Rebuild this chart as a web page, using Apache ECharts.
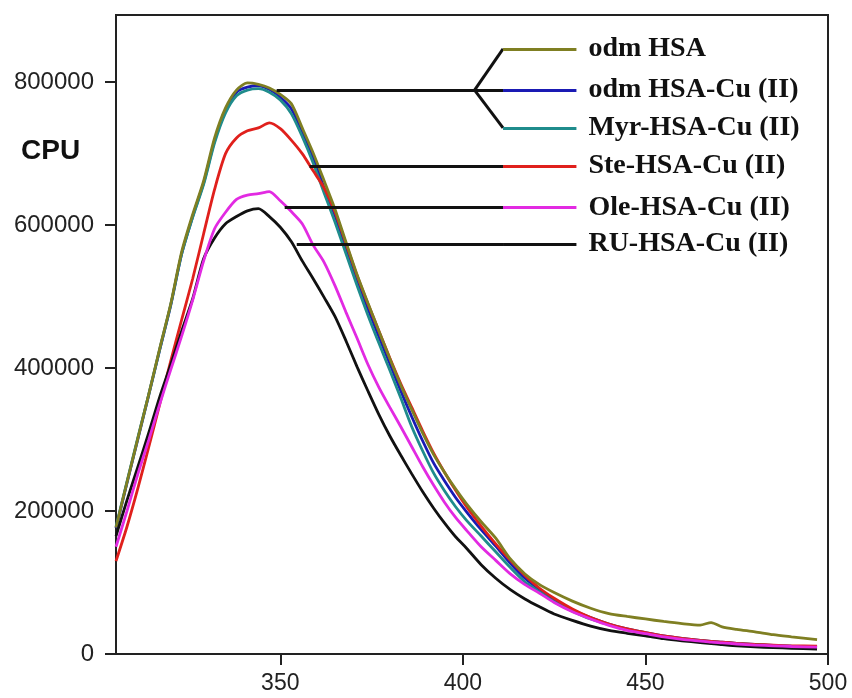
<!DOCTYPE html>
<html>
<head>
<meta charset="utf-8">
<script src="https://cdn.jsdelivr.net/npm/echarts@6/dist/echarts.min.js"></script>
<style>
  html, body { margin: 0; padding: 0; background: #fff; }
  #chart { width: 852px; height: 698px; }
</style>
</head>
<body>
<div id="chart"></div>
<script>
// emission wavelength (nm)
const wavelength = [305, 308, 311, 314, 317, 320, 323, 326, 329, 332, 335, 338, 341, 344, 347, 350, 353, 356, 359, 362,
  365, 368, 371, 374, 377, 380, 383, 386, 389, 392, 395, 398, 401, 405, 409, 413, 417, 421, 425, 430,
  435, 440, 445, 450, 455, 460, 465, 468, 471, 475, 480, 485, 490, 497]

const odmHSA = [177000, 240000, 302000, 364000, 428000, 490000, 563000, 615000, 662000, 722000,
  764000, 789000, 799000, 797000, 792000, 783000, 770000, 736000, 701000, 662000,
  622000, 576000, 531000, 491000, 452000, 413000, 376000, 342000, 309000, 279000,
  254000, 231000, 210000, 185000, 162000, 133000, 112000, 97000, 86000, 74000,
  64000, 56500, 52500, 49000, 45500, 42500, 40500, 44000, 38000, 34500,
  31000, 27000, 24000, 20000]
const odmHSACu = [176000, 239000, 301000, 363000, 426000, 488000, 560000, 612000, 659000, 718000,
  760000, 786000, 793000, 795000, 790000, 779000, 763000, 731000, 695000, 652000,
  613000, 568000, 524000, 483000, 444000, 406000, 368000, 332000, 298000, 267000,
  242000, 219000, 199000, 174000, 151000, 127000, 106000, 90000, 76000, 62000,
  51000, 42000, 35000, 30000, 25500, 22000, 19000, 17500, 16500, 15000,
  13500, 12000, 11000, 10000]
const myrHSACu = [178000, 241000, 303000, 364000, 427000, 489000, 560000, 611000, 657000, 715000,
  757000, 781000, 789000, 791000, 786000, 775000, 756000, 724000, 687000, 645000,
  604000, 560000, 516000, 474000, 435000, 397000, 358000, 318000, 284000, 253000,
  228000, 206000, 187000, 165000, 143000, 121000, 101000, 87000, 73000, 60000,
  49000, 41000, 34000, 29000, 24500, 21000, 18500, 17000, 16000, 14500,
  13000, 11500, 10500, 9500]
const steHSACu = [130000, 178000, 232000, 290000, 350000, 410000, 468000, 525000, 588000, 650000,
  700000, 722000, 732000, 736000, 743000, 735000, 719000, 700000, 676000, 652000,
  618000, 574000, 530000, 490000, 452000, 414000, 378000, 345000, 312000, 281000,
  254000, 229000, 206000, 179000, 154000, 131000, 110000, 92000, 78000, 63000,
  51000, 42000, 35000, 30000, 25500, 22000, 19000, 17500, 16500, 15000,
  13500, 12500, 11500, 11000]
const oleHSACu = [150000, 200000, 252000, 300000, 350000, 398000, 445000, 495000, 550000, 595000,
  618000, 636000, 642000, 644000, 647000, 634000, 619000, 602000, 572000, 548000,
  515000, 478000, 442000, 405000, 373000, 345000, 318000, 290000, 262000, 236000,
  212000, 191000, 173000, 150000, 131000, 112000, 97000, 85000, 72000, 59000,
  49000, 40000, 33000, 28500, 24000, 20500, 18000, 16500, 15500, 14000,
  12500, 11500, 10500, 9500]
const ruHSACu = [165000, 215000, 262000, 310000, 360000, 405000, 452000, 497000, 553000, 582000,
  602000, 612000, 620000, 623000, 612000, 597000, 577000, 550000, 525000, 499000,
  472000, 438000, 402000, 368000, 335000, 305000, 278000, 252000, 227000, 204000,
  183000, 164000, 148000, 125000, 106000, 90000, 77000, 66000, 56000, 47000,
  39000, 33000, 29000, 25500, 21500, 18500, 16000, 14500, 13000, 11500,
  10000, 9000, 8000, 7000]

const seriesNames = ['odm HSA', 'odm HSA-Cu (II)', 'Myr-HSA-Cu (II)', 'Ste-HSA-Cu (II)', 'Ole-HSA-Cu (II)', 'RU-HSA-Cu (II)']
const seriesColors = ['#7f7f22', '#1a1ab4', '#1f8c8c', '#e0201c', '#e22ae2', '#111111']
const xTicks = [350, 400, 450, 500]
const yTicks = [0, 200000, 400000, 600000, 800000]

// key rows drawn inside the plot (value units)
const keyY = [846600, 789000, 736100, 683000, 624600, 573800]
const keyX = [411.0, 431.1]
const forkX = 403.2
const leaderFrom = [null, 349.0, null, 358.0, 351.2, 354.5]

const values = [odmHSA, odmHSACu, myrHSACu, steHSACu, oleHSACu, ruHSACu]
const drawOrder = [1, 2, 3, 0, 5, 4]

const black = '#111'
const seriesList = drawOrder.map(i => {
  const lines = [[
    { coord: [keyX[0], keyY[i]], name: seriesNames[i], lineStyle: { color: seriesColors[i] } },
    { coord: [keyX[1], keyY[i]] }
  ]]
  if (leaderFrom[i] !== null) {
    lines.push([
      { coord: [leaderFrom[i], keyY[i]], label: { show: false }, lineStyle: { color: black } },
      { coord: [keyX[0], keyY[i]] }
    ])
  }
  if (i === 1) {
    // fork to the first and third key rows
    lines.push([
      { coord: [forkX, keyY[1]], label: { show: false }, lineStyle: { color: black } },
      { coord: [keyX[0], keyY[0]] }
    ])
    lines.push([
      { coord: [forkX, keyY[1]], label: { show: false }, lineStyle: { color: black } },
      { coord: [keyX[0], keyY[2]] }
    ])
  }
  return {
    name: seriesNames[i],
    type: 'line',
    data: wavelength.map((w, k) => [w, values[i][k]]),
    showSymbol: false,
    smooth: 0.25,
    lineStyle: { color: seriesColors[i], width: 2.8 },
    itemStyle: { color: seriesColors[i] },
    markLine: {
      silent: true,
      animation: false,
      symbol: ['none', 'none'],
      lineStyle: { type: 'solid', width: 3 },
      label: {
        show: true,
        position: 'end',
        distance: 12,
        formatter: '{b}',
        color: '#111',
        fontFamily: 'Liberation Serif',
        fontWeight: 'bold',
        fontSize: 28
      },
      data: lines
    }
  }
})

const chart = echarts.init(document.getElementById('chart'))
chart.setOption({
  animation: false,
  backgroundColor: '#fff',
  title: {
    text: 'CPU',
    left: 16,
    top: 132,
    textStyle: { fontFamily: 'Liberation Sans', fontSize: 28, fontWeight: 'bold', color: '#111' }
  },
  grid: {
    left: 116,
    right: 24,
    top: 15,
    bottom: 44,
    show: true,
    borderColor: '#222',
    borderWidth: 2
  },
  xAxis: {
    type: 'value',
    min: 305,
    max: 500,
    axisLine: { lineStyle: { color: '#222', width: 2 } },
    axisTick: { customValues: xTicks, length: 11, lineStyle: { width: 2, color: '#222' } },
    axisLabel: {
      customValues: xTicks,
      fontFamily: 'Liberation Sans',
      fontSize: 23,
      color: '#222',
      margin: 18
    },
    splitLine: { show: false }
  },
  yAxis: {
    type: 'value',
    min: 0,
    max: 894000,
    axisLine: { show: true, lineStyle: { color: '#222', width: 2 } },
    axisTick: { show: true, customValues: yTicks, length: 11, lineStyle: { width: 2, color: '#222' } },
    axisLabel: {
      customValues: yTicks,
      formatter: v => String(v),
      fontFamily: 'Liberation Sans',
      fontSize: 24,
      color: '#222',
      margin: 22
    },
    splitLine: { show: false }
  },
  series: seriesList
})
</script>
</body>
</html>
